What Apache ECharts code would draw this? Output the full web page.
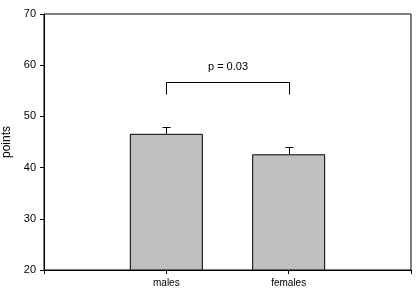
<!DOCTYPE html>
<html><head><meta charset="utf-8">
<script src="https://cdn.jsdelivr.net/npm/echarts@6/dist/echarts.min.js"></script>
<style>html,body{margin:0;padding:0;background:#fff}#c{width:419px;height:291px}</style>
</head><body><div id="c"></div>
<script>
var categories = ['', 'males', 'females', ''];
var groups = ['males', 'females'];
var means = [46.6, 42.6];
var errUpper = [47.9, 44.0];
var yTicks = [20, 30, 40, 50, 60, 70];
var bracketFrom = 'males', bracketTo = 'females';
var bracketLow = 54.3, bracketHigh = 56.8;
var pText = 'p = 0.03';
var pTextY = 59.6;

var font = 'Liberation Sans, Arial, sans-serif';
var chart = echarts.init(document.getElementById('c'));
chart.setOption({
  animation: false,
  grid: {left: 44, right: 8, top: 14, bottom: 21, show: true, borderColor: '#000', borderWidth: 1, backgroundColor: '#fff', containLabel: false, outerBoundsMode: 'none'},
  xAxis: {
    type: 'category', data: categories, boundaryGap: false,
    axisLine: {lineStyle: {color: '#000', width: 1}},
    axisTick: {show: true, length: 4, lineStyle: {color: '#000'}},
    axisLabel: {color: '#000', fontFamily: font, fontSize: 10, margin: 8, interval: 0},
    splitLine: {show: false}
  },
  yAxis: {
    type: 'value', min: yTicks[0], max: yTicks[yTicks.length - 1], interval: 10,
    name: 'points', nameLocation: 'middle', nameGap: 25, nameRotate: 90,
    nameTextStyle: {color: '#000', fontFamily: font, fontSize: 12},
    axisLine: {show: true, lineStyle: {color: '#000', width: 1}},
    axisTick: {show: true, length: 4, lineStyle: {color: '#000'}},
    axisLabel: {color: '#000', fontFamily: font, fontSize: 11, margin: 8},
    splitLine: {show: false}
  },
  series: [
    {
      type: 'bar', barWidth: 73,
      data: groups.map(function (g, i) { return [g, means[i]]; }),
      itemStyle: {color: '#c0c0c0', borderColor: '#000', borderWidth: 1}
    },
    {
      type: 'custom', z: 5,
      data: groups.map(function (g, i) { return [g, means[i], errUpper[i]]; }),
      renderItem: function (params, api) {
        var base = api.coord([api.value(0), api.value(1)]);
        var top = api.coord([api.value(0), api.value(2)]);
        var x = Math.round(base[0]) + 0.5;
        return {type: 'group', children: [
          {type: 'line', shape: {x1: x, y1: base[1], x2: x, y2: Math.round(top[1]) + 0.5}, style: {stroke: '#000', lineWidth: 1}},
          {type: 'line', shape: {x1: x - 4, y1: Math.round(top[1]) + 0.5, x2: x + 4, y2: Math.round(top[1]) + 0.5}, style: {stroke: '#000', lineWidth: 1}}
        ]};
      }
    },
    {
      type: 'custom', z: 5,
      data: [[bracketFrom, bracketTo, bracketLow, bracketHigh, pTextY]],
      renderItem: function (params, api) {
        var a = api.coord([bracketFrom, bracketLow]);
        var b = api.coord([bracketTo, bracketHigh]);
        var t = api.coord([bracketFrom, pTextY]);
        var x1 = Math.round(a[0]) + 0.5, x2 = Math.round(b[0]) + 0.5;
        var yl = Math.round(a[1]) + 0.5, yh = Math.round(b[1]) + 0.5;
        return {type: 'group', children: [
          {type: 'polyline', shape: {points: [[x1, yl], [x1, yh], [x2, yh], [x2, yl]]}, style: {stroke: '#000', lineWidth: 1, fill: null}},
          {type: 'text', style: {text: pText, x: (x1 + x2) / 2, y: t[1], align: 'center', verticalAlign: 'middle', fill: '#000', font: '11px ' + font}}
        ]};
      }
    }
  ]
});
</script></body></html>
